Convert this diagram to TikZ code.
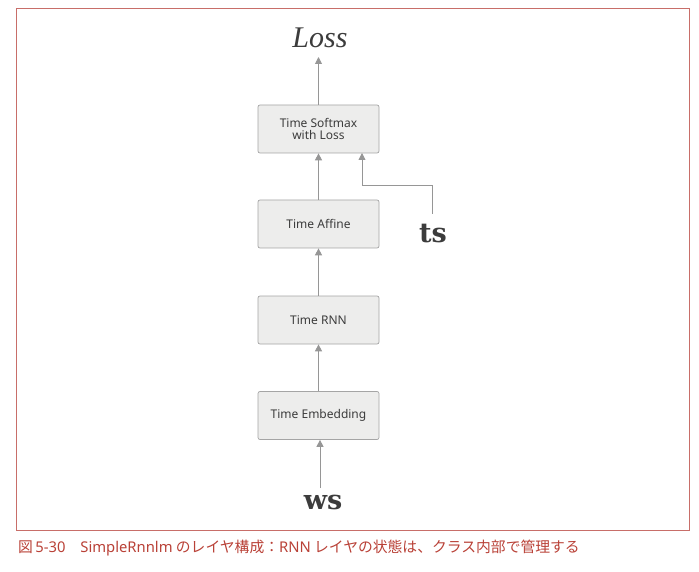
\documentclass[tikz,border=0pt]{standalone}
\usepackage{fontspec}
\setmainfont{Liberation Serif}
\newfontfamily\jpfont{Noto Sans CJK JP}
\newfontfamily\latinfont{Noto Sans}
\newfontfamily\seriffont{DejaVu Serif}
\usepackage{tikz}
\usetikzlibrary{arrows.meta}

\definecolor{framered}{RGB}{200,110,105}
\definecolor{capred}{RGB}{185,65,55}
\definecolor{boxgray}{RGB}{237,237,236}
\definecolor{edgegray}{RGB}{165,165,165}
\definecolor{arrowgray}{RGB}{150,150,150}
\definecolor{textgray}{RGB}{60,60,60}

\tikzset{
    layer/.style={draw=edgegray, fill=boxgray, rounded corners=2pt, line width=0.7pt,
        minimum width=121pt, minimum height=48pt, align=center,
        font=\latinfont\fontsize{12}{12.5}\selectfont, text=textgray},
    flow/.style={draw=arrowgray, line width=0.9pt, -{Triangle[width=7pt,length=7pt]}},
    bigvar/.style={text=textgray, inner sep=0pt}
}

\begin{document}
\begin{tikzpicture}[x=1pt, y=-1pt]
    \useasboundingbox (0,0) rectangle (699,572);
    % Frame
    \draw[framered, line width=0.8pt] (16,8) rectangle (689,530);

    % Layers
    \node[layer] (softmax) at (318.5,129) {Time Softmax\\[-1pt]with Loss};
    \node[layer] (affine) at (318.5,224) {Time Affine};
    \node[layer] (rnn) at (318.5,320) {Time RNN};
    \node[layer] (embed) at (318.5,415.5) {Time Embedding};

    % Inputs and output
    \node[bigvar, font=\itshape\fontsize{30}{30}\selectfont] (loss) at (320,38) {Loss};
    \node[bigvar, font=\seriffont\bfseries\fontsize{27}{27}\selectfont] (ts) at (433,234) {ts};
    \node[bigvar, font=\seriffont\bfseries\fontsize{27}{27}\selectfont] (ws) at (323,502) {ws};
    \coordinate (tstop) at (432,214);
    \coordinate (wstop) at (320,488);

    % Arrows
    \draw[flow] (softmax.north) -- (318.5,57);
    \draw[flow] (affine.north) -- (softmax.south);
    \draw[flow] (rnn.north) -- (affine.south);
    \draw[flow] (embed.north) -- (rnn.south);
    \draw[flow] (wstop) -- (embed.south -| wstop);
    \draw[flow] (tstop) |- (362,185) -- (362,153);

    % Caption
    \node[anchor=west, inner sep=0pt, text=capred, font=\jpfont\fontsize{14.8}{16}\selectfont] (caption) at (18,548)
        {図\,{\latinfont 5-30}\hspace{1em}{\latinfont SimpleRnnlm} のレイヤ構成：{\latinfont RNN} レイヤの状態は、クラス内部で管理する};
\end{tikzpicture}
\end{document}
